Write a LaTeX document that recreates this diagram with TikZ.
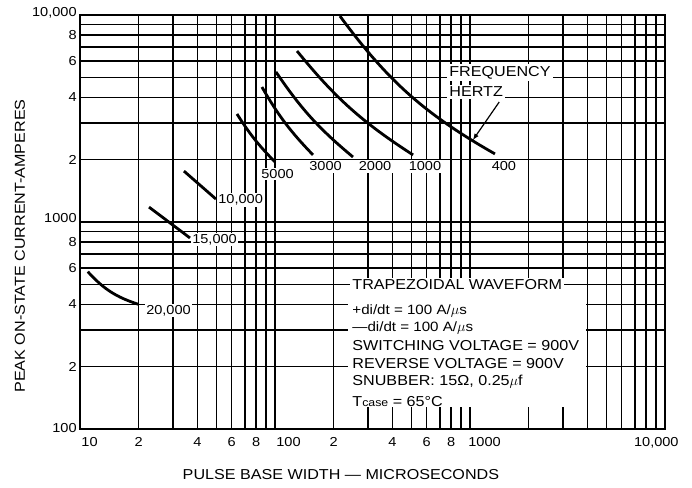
\documentclass[tikz,border=0pt]{standalone}
\usepackage{fontspec}
\setmainfont[FakeStretch=1.12]{Liberation Sans}
\usepackage{tikz}
\usetikzlibrary{arrows}
\usetikzlibrary{calc}

\newcommand{\ticksize}{\fontsize{13}{15}\selectfont}
\newcommand{\titlesize}{\fontsize{14.4}{17}\selectfont}

\begin{document}
\begin{tikzpicture}[x=195pt,y=207pt,thick,
    gridline/.style={line width=1.5pt},
    curve/.style={line width=2.8pt},
    tick/.style={font=\ticksize,inner sep=1pt},
    clabel/.style={font=\fontsize{13}{14}\selectfont,fill=white,inner sep=1.5pt},
    legend/.style={font=\titlesize,anchor=west,inner sep=1pt}]
\useasboundingbox (-0.4103,-0.285) rectangle (3.1385,2.0725);
% grid
\foreach \d in {0,1,2}
  \foreach \m in {2,...,9}
    \draw[gridline] ({\d+log10(\m)},0) -- ({\d+log10(\m)},2);
\foreach \d in {0,1}
  \foreach \m in {2,...,9}
    \draw[gridline] (0,{\d+log10(\m)}) -- (3,{\d+log10(\m)});
\draw[gridline] (1,0) -- (1,2) (2,0) -- (2,2) (0,1) -- (3,1);

% frequency curves
\draw[curve] (0.040,0.760) to[bend right=15] (0.301,0.602);
\draw[curve] (0.354,1.072) -- (0.564,0.923);
\draw[curve] (0.533,1.246) -- (0.697,1.111);
\draw[curve] (0.805,1.522) to[bend right=6] (1.000,1.290);
\draw[curve] (0.933,1.652) to[bend right=7] (1.195,1.324);
\draw[curve] (1.005,1.725) to[bend right=8] (1.400,1.314);
\draw[curve] (1.113,1.826) to[bend right=9] (1.708,1.324);
\draw[curve] (1.333,1.995) to[bend right=12] (2.128,1.329);

\node[clabel,anchor=west] (f20k) at (0.330,0.572) {20,000};
\node[clabel,anchor=west] (f15k) at (0.566,0.916) {15,000};
\node[clabel,anchor=west] (f10k) at (0.700,1.108) {10,000};
\node[clabel] (f5k) at (1.013,1.232) {5000};
\node[clabel] (f3k) at (1.259,1.268) {3000};
\node[clabel] (f2k) at (1.513,1.268) {2000};
\node[clabel] (f1k) at (1.769,1.268) {1000};
\node[clabel] (f400) at (2.174,1.268) {400};

\node[legend,fill=white,inner sep=2pt] (freq) at (1.882,1.722) {FREQUENCY};
\node[legend,fill=white,inner sep=2pt] (hertz) at (1.882,1.630) {HERTZ};
\coordinate (tip) at (2.015,1.396);
\draw[line width=1.2pt,-latex] ([xshift=-6pt,yshift=-3pt]hertz.south east) -- (tip);

% test conditions
\fill[white] (1.374,0.106) rectangle (2.595,0.662);
\node[legend,fill=white,inner sep=2pt] (wave) at (1.385,0.696) {TRAPEZOIDAL WAVEFORM};
\node[legend,font=\fontsize{13.5}{15}\selectfont] (rise) at (1.390,0.570) {+di/dt = 100 A/$\mu$s};
\node[legend,font=\fontsize{13.5}{15}\selectfont] (fall) at (1.390,0.488) {---di/dt = 100 A/$\mu$s};
\node[legend] (vsw) at (1.390,0.401) {SWITCHING VOLTAGE = 900V};
\node[legend] (vrev) at (1.390,0.314) {REVERSE VOLTAGE = 900V};
\node[legend] (snub) at (1.390,0.227) {SNUBBER: 15Ω, 0.25$\mu$f};
\node[legend] (tcase) at (1.390,0.135) {T{\fontsize{11}{12}\selectfont case} = 65°C};

\draw[line width=2pt] (0,0) rectangle (3,2);

% axis labels
\node[tick,anchor=east,xshift=-2pt,yshift=2pt] (y10k) at (0,2) {10,000};
\foreach \d in {0,1}
  \foreach \m in {2,4,6,8}
    \node[tick,anchor=east,xshift=-2pt] at (0,{\d+log10(\m)}) {\m};
\node[tick,anchor=east,xshift=-2pt,yshift=4pt] (y1k) at (0,1) {1000};
\node[tick,anchor=east,xshift=-2pt,yshift=1pt] (y100) at (0,0) {100};

\node[tick,anchor=north west,yshift=-7pt] (x10) at (0,0) {10};
\foreach \d in {0,1}
  \foreach \m in {2,4,6,8}
    \node[tick,anchor=north,yshift=-7pt] at ({\d+log10(\m)},0) {\m};
\node[tick,anchor=north west,yshift=-7pt] (x100) at (1,0) {100};
\node[tick,anchor=north west,xshift=-3pt,yshift=-7pt] (x1k) at (2,0) {1000};
\node[tick,anchor=north east,xshift=15pt,yshift=-7pt] (x10k) at (3,0) {10,000};

\node[font=\titlesize] (xtitle) at (1.338,-0.222) {PULSE BASE WIDTH --- MICROSECONDS};
\node[font=\titlesize,rotate=90] (ytitle) at (-0.308,0.884) {PEAK ON-STATE CURRENT-AMPERES};
\end{tikzpicture}
\end{document}
